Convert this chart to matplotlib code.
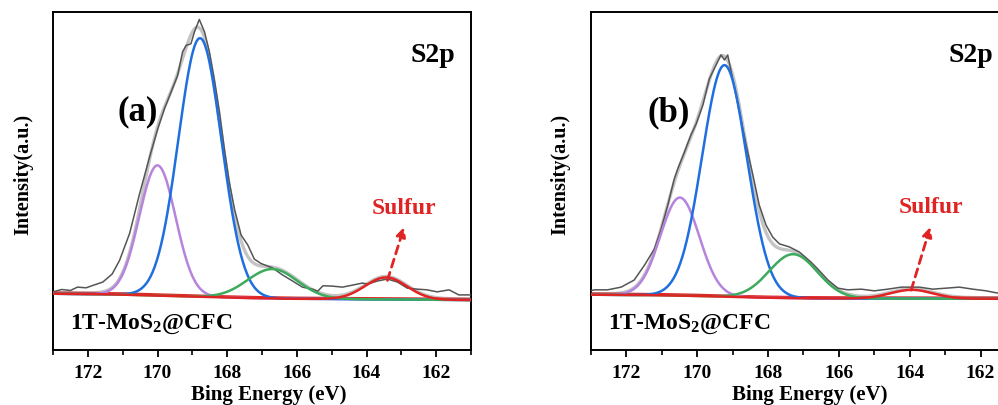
import numpy as np
import matplotlib
matplotlib.use('Agg')
import matplotlib.pyplot as plt
from matplotlib.ticker import MultipleLocator

plt.rcParams['font.family'] = 'Liberation Serif'
plt.rcParams['font.weight'] = 'bold'
plt.rcParams['mathtext.fontset'] = 'custom'
plt.rcParams['mathtext.rm'] = 'Liberation Serif:bold'
plt.rcParams['mathtext.it'] = 'Liberation Serif:bold'
plt.rcParams['mathtext.bf'] = 'Liberation Serif:bold'

# --- panel (a): raw spectrum
raw_e_a = [173.0, 172.75, 172.5, 172.3, 172.05, 171.8, 171.57, 171.3, 171.09, 170.8, 170.52, 170.23,
           169.99, 169.8, 169.61, 169.42, 169.28, 169.18, 169.04, 168.94, 168.8, 168.65, 168.51,
           168.37, 168.22, 168.08, 167.94, 167.79, 167.6, 167.41, 167.22, 167.03, 166.7, 166.41,
           166.12, 165.84, 165.55, 165.4, 165.25, 164.98, 164.69, 164.4, 164.12, 163.97, 163.69,
           163.4, 163.11, 162.83, 162.54, 162.26, 161.97, 161.63, 161.35, 161.0]
raw_i_a = [17.2, 17.9, 17.6, 18.6, 18.4, 19.3, 20.1, 22.5, 26.5, 34.5, 46.0, 57.0,
           65.5, 71.4, 76.3, 81.3, 88.2, 90.1, 90.6, 94.1, 97.8, 94.1, 88.2,
           80.2, 70.4, 59.5, 49.7, 41.7, 34.0, 31.1, 26.9, 25.6, 24.3, 22.2,
           20.4, 18.6, 18.0, 17.4, 19.0, 18.9, 18.6, 19.2, 19.8, 19.5, 20.4,
           21.0, 20.1, 18.3, 18.0, 17.8, 17.2, 17.8, 16.3, 16.3]

# --- panel (b): raw spectrum
raw_e_b = [173.0, 172.9, 172.53, 172.15, 171.78, 171.49, 171.21, 171.02, 170.83, 170.65, 170.55,
           170.36, 170.18, 170.03, 169.84, 169.66, 169.47, 169.33, 169.23, 169.14, 169.0,
           168.81, 168.62, 168.43, 168.25, 168.06, 167.87, 167.68, 167.4, 167.12, 166.79,
           166.6, 166.31, 166.03, 165.75, 165.37, 165.0, 164.62, 164.24, 163.73, 163.35,
           162.97, 162.6, 162.22, 161.84, 161.55, 161.0]
raw_i_b = [17.6, 17.8, 17.8, 18.6, 20.7, 25.1, 29.9, 35.8, 42.9, 50.6, 53.6,
           58.6, 63.6, 66.9, 72.5, 80.2, 84.3, 87.3, 85.8, 87.3, 80.2,
           70.4, 60.7, 51.8, 42.9, 37.0, 33.4, 31.4, 30.5, 29.0, 26.0,
           24.0, 20.7, 18.3, 17.8, 18.0, 17.5, 18.0, 18.6, 18.6, 18.0,
           18.3, 18.6, 18.0, 17.5, 16.9, 16.9]

# background (red line) at whole eV
bg_e = [173, 172, 171, 170, 169, 168, 167, 166, 165, 164, 163, 162, 161]
bg_a = [16.95, 16.86, 16.72, 16.42, 16.12, 15.83, 15.59, 15.44, 15.38, 15.30, 15.24, 15.15, 15.09]
bg_b = [16.66, 16.60, 16.50, 16.30, 16.00, 15.75, 15.60, 15.55, 15.52, 15.50, 15.48, 15.46, 15.45]

# fitted components: purple, blue, green, red (sulfur)
comp_colors = ['#b684dc', '#1f6fde', '#3cab5c', '#e02424']
centers_a = [170.0, 168.78, 166.7, 163.44]
heights_a = [38.5, 76.5, 8.7, 6.5]
sigmas_a = [0.52, 0.62, 0.72, 0.6]
centers_b = [170.49, 169.23, 167.29, 163.94]
heights_b = [29.0, 68.5, 13.0, 2.6]
sigmas_b = [0.55, 0.63, 0.68, 0.6]


def draw_panel(ax, raw_e, raw_i, bg, centers, heights, sigmas, tag, tag_xy, s2p_xy,
               sulfur_xy, arrow_tail, arrow_tip, sample_xy):
    e = np.linspace(161, 173, 600)
    base = np.interp(e, bg_e[::-1], bg[::-1])
    total = base.copy()
    comps = []
    for c, h, s in zip(centers, heights, sigmas):
        g = h * np.exp(-(e - c) ** 2 / (2 * s ** 2))
        comps.append(g)
        total += g
    ax.plot(e, total, color='#c4c4c4', lw=2.4, zorder=2)
    ax.plot(raw_e, raw_i, color='#555555', lw=1.1, zorder=3)
    ax.plot(bg_e, bg, color='#e02424', lw=1.8, zorder=4)
    for g, col in zip(comps, comp_colors):
        ax.plot(e, base + g - 0.3, color=col, lw=1.8, zorder=5)

    ax.set_xlim(173, 161)
    ax.set_ylim(0, 100)
    ax.xaxis.set_major_locator(MultipleLocator(2))
    ax.xaxis.set_minor_locator(MultipleLocator(1))
    ax.tick_params(axis='x', which='major', direction='out', length=5, width=1.3,
                   labelsize=14, pad=6)
    ax.tick_params(axis='x', which='minor', direction='out', length=3.5, width=1.2)
    ax.set_yticks([])
    for sp in ax.spines.values():
        sp.set_linewidth(1.4)

    ax.set_xlabel('Bing Energy (eV)', fontsize=15, fontweight='bold', va='center')
    ax.xaxis.set_label_coords(0.515, -0.134)
    ax.set_ylabel('Intensity(a.u.)', fontsize=14.5, fontweight='bold', va='center')
    ax.yaxis.set_label_coords(-0.072, 0.518)

    ax.text(*tag_xy, tag, transform=ax.transAxes, fontsize=25, fontweight='bold',
            ha='center', va='center')
    ax.text(*s2p_xy, 'S2p', transform=ax.transAxes, fontsize=20, fontweight='bold',
            ha='center', va='baseline')
    ax.text(*sulfur_xy, 'Sulfur', color='#e02424', fontsize=17, fontweight='bold',
            ha='center', va='baseline')
    ax.annotate('', xy=arrow_tip, xytext=arrow_tail,
                arrowprops=dict(arrowstyle='-|>', color='#e02424', lw=2,
                                linestyle=(0, (3, 2)), mutation_scale=14,
                                shrinkA=0, shrinkB=0))
    ax.text(*sample_xy, r'1T-MoS$_2$@CFC', transform=ax.transAxes, fontsize=17,
            fontweight='bold', ha='left', va='baseline')


fig = plt.figure(figsize=(9.98, 4.05), dpi=100)
ax1 = fig.add_axes([53 / 998, 55 / 405, 418 / 998, 338 / 405])
ax2 = fig.add_axes([591 / 998, 55 / 405, 425 / 998, 338 / 405])

draw_panel(ax1, raw_e_a, raw_i_a, bg_a, centers_a, heights_a, sigmas_a, '(a)',
           (0.203, 0.705), (0.909, 0.852), (162.92, 40.3), (163.40, 20.6),
           (162.92, 36.4), (0.041, 0.064))
draw_panel(ax2, raw_e_b, raw_i_b, bg_b, centers_b, heights_b, sigmas_b, '(b)',
           (0.182, 0.702), (0.895, 0.852), (163.41, 40.4), (163.96, 17.7),
           (163.42, 36.4), (0.040, 0.064))

fig.savefig('out.png', dpi=100)
